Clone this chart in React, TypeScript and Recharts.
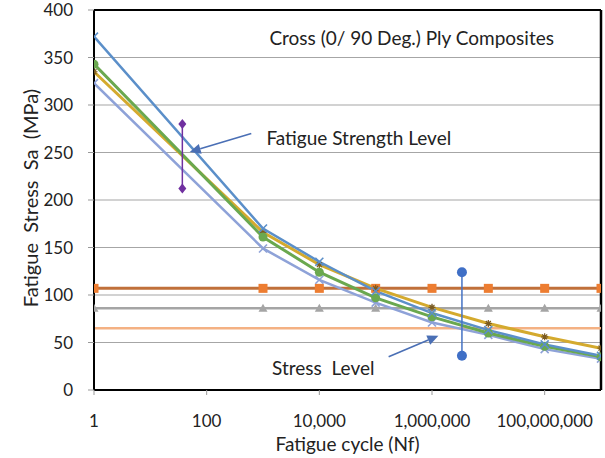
import React from 'react';
import {
  ComposedChart, Line, XAxis, YAxis, CartesianGrid, ReferenceLine, ReferenceDot,
} from 'recharts';

// ---------- data ----------
const cycles = [1, 1e3, 1e4, 1e5, 1e6, 1e7, 1e8, 1e9];
const curveBlue = [372, 170, 135, 104, 81, 63, 48, 36];
const curveGreen = [343, 161, 124, 97, 77, 60, 46, 35];
const curveYellow = [335, 166, 132, 107, 87, 70, 56, 44];
const curveLavender = [323, 149, 116, 92, 71, 58, 43, 33];
const levelOrange = [107, 107, 107, 107, 107, 107, 107, 107];
const levelGray = [86, 86, 86, 86, 86, 86, 86, 86];
const levelLight = [65, 65, 65, 65, 65, 65, 65, 65];

const strengthBarX = 37;
const strengthBar = [212, 280];
const stressBarX = 3.4e6;
const stressBar = [36, 124];

const xTicks = [1, 100, 1e4, 1e6, 1e8];
const yTicks = [0, 50, 100, 150, 200, 250, 300, 350, 400];

const titleText = 'Cross (0/ 90 Deg.) Ply Composites';
const strengthText = 'Fatigue Strength Level';
const stressText = 'Stress  Level';
const xTitle = 'Fatigue cycle (Nf)';
const yTitle = 'Fatigue  Stress  Sa  (MPa)';

const rows = cycles.map((c, i) => ({
  x: c,
  blue: curveBlue[i],
  green: curveGreen[i],
  yellow: curveYellow[i],
  lav: curveLavender[i],
  orange: levelOrange[i],
  gray: levelGray[i],
  light: levelLight[i],
}));
const strengthRows = strengthBar.map((v) => ({ x: strengthBarX, y: v }));
const stressRows = stressBar.map((v) => ({ x: stressBarX, y: v }));

const FONT = 'Lato, "Open Sans", sans-serif';

// ---------- markers ----------
const XMark = (color: string) => (p: any) => {
  const { cx, cy, index } = p;
  const s = 4;
  return (
    <path key={`xm-${index}`} d={`M${cx - s},${cy - s}L${cx + s},${cy + s}M${cx - s},${cy + s}L${cx + s},${cy - s}`}
      stroke={color} strokeWidth={1.6} fill="none" />
  );
};
const Square = (color: string) => (p: any) => {
  const { cx, cy, index } = p;
  return <rect key={`sq-${index}`} x={cx - 4.5} y={cy - 4.5} width={9} height={9} fill={color} />;
};
const Tri = (color: string) => (p: any) => {
  const { cx, cy, index } = p;
  return <path key={`tr-${index}`} d={`M${cx},${cy - 4.5}L${cx + 4.5},${cy + 3.5}L${cx - 4.5},${cy + 3.5}Z`} fill={color} />;
};
const Circ = (color: string, r: number) => (p: any) => {
  const { cx, cy, index } = p;
  return <circle key={`ci-${index}`} cx={cx} cy={cy} r={r} fill={color} />;
};
const Diamond = (color: string) => (p: any) => {
  const { cx, cy, index } = p;
  return <path key={`di-${index}`} d={`M${cx},${cy - 5}L${cx + 4},${cy}L${cx},${cy + 5}L${cx - 4},${cy}Z`} fill={color} />;
};
const Star = (color: string) => (p: any) => {
  const { cx, cy, index } = p;
  const s = 3.5;
  return (
    <path key={`st-${index}`} d={`M${cx - s},${cy}L${cx + s},${cy}M${cx},${cy - s}L${cx},${cy + s}M${cx - 2.5},${cy - 2.5}L${cx + 2.5},${cy + 2.5}M${cx - 2.5},${cy + 2.5}L${cx + 2.5},${cy - 2.5}`}
      stroke={color} strokeWidth={1.2} fill="none" />
  );
};

const Arrow = (color: string) => (p: any) => {
  const { x1, y1, x2, y2 } = p;
  const ang = Math.atan2(y2 - y1, x2 - x1);
  const L = 11, W = 5;
  const bx = x2 - L * Math.cos(ang);
  const by = y2 - L * Math.sin(ang);
  const px = -Math.sin(ang) * W;
  const py = Math.cos(ang) * W;
  return (
    <g>
      <line x1={x1} y1={y1} x2={bx} y2={by} stroke={color} strokeWidth={1.6} />
      <path d={`M${x2},${y2}L${bx + px},${by + py}L${bx - px},${by - py}Z`} fill={color} />
    </g>
  );
};

const TextAt = (txt: string) => (p: any) => (
  <text x={p.cx} y={p.cy} fontFamily={FONT} fontSize={19} fill="#222" dominantBaseline="central"
    style={{ whiteSpace: 'pre' }}>{txt}</text>
);

const YTitle = (props: any) => {
  const vb = props.viewBox;
  const cx = vb.x + 30;
  const cy = vb.y + vb.height / 2 - 2;
  return (
    <text x={cx} y={cy} transform={`rotate(-90 ${cx} ${cy})`} textAnchor="middle" dominantBaseline="central"
      fontFamily={FONT} fontSize={20} fill="#222" style={{ whiteSpace: 'pre' }}>{yTitle}</text>
  );
};
const XTitle = (props: any) => {
  const vb = props.viewBox;
  const cx = vb.x + vb.width / 2;
  const cy = vb.y + 53;
  return (
    <text x={cx} y={cy} textAnchor="middle" dominantBaseline="central"
      fontFamily={FONT} fontSize={19} fill="#222">{xTitle}</text>
  );
};

const fmt = (v: number) => v.toLocaleString('en-US');

export default function App() {
  return (
    <div style={{ position: 'absolute', left: 0, top: 0, width: 605, height: 458, background: '#fff', fontFamily: FONT }}>
      <ComposedChart width={605} height={458} data={rows} margin={{ top: 10, right: 4, left: 0, bottom: 0 }}>
        <CartesianGrid horizontal vertical={false} stroke="#a6a6a6" strokeWidth={1.2} />
        <XAxis dataKey="x" type="number" scale="log" domain={[1, 1e9]} ticks={xTicks} allowDataOverflow
          tickFormatter={fmt} height={68} stroke="#000" strokeWidth={2}
          tick={{ fontSize: 17, fill: '#222', fontFamily: FONT }} tickSize={5} tickMargin={20}
          tickLine={{ stroke: '#999', strokeWidth: 1 }} label={<XTitle />} />
        <YAxis type="number" domain={[0, 400]} ticks={yTicks} width={94} stroke="#000" strokeWidth={2}
          tick={{ fontSize: 17, fill: '#222', fontFamily: FONT }} tickSize={6} tickMargin={15}
          tickLine={{ stroke: '#999', strokeWidth: 1 }} label={<YTitle />} />
        <ReferenceLine y={400} stroke="#000" strokeWidth={2} />
        <ReferenceLine x={1e9} stroke="#000" strokeWidth={2.5} />

        <Line dataKey="light" stroke="#F4B183" strokeWidth={2.5} dot={false} isAnimationActive={false} />
        <Line dataKey="gray" stroke="#A5A5A5" strokeWidth={2.5} dot={Tri('#A5A5A5')} isAnimationActive={false} />
        <Line dataKey="orange" stroke="#C0703A" strokeWidth={3} dot={Square('#ED7D31')} isAnimationActive={false} />

        <Line dataKey="lav" type="linear" stroke="#8EA2D8" strokeWidth={2.5} dot={XMark('#8EA2D8')} isAnimationActive={false} />
        <Line dataKey="yellow" type="linear" stroke="#D4AA2E" strokeWidth={3} dot={Star('#7A5A20')} isAnimationActive={false} />
        <Line dataKey="green" type="linear" stroke="#6AA84F" strokeWidth={3} dot={Circ('#6AA84F', 4.5)} isAnimationActive={false} />
        <Line dataKey="blue" type="linear" stroke="#5B8FC9" strokeWidth={2.5} dot={XMark('#5B8FC9')} isAnimationActive={false} />

        <Line data={strengthRows} dataKey="y" stroke="#7030A0" strokeWidth={1.5} dot={Diamond('#7030A0')} isAnimationActive={false} />
        <Line data={stressRows} dataKey="y" stroke="#4472C4" strokeWidth={1.5} dot={Circ('#3F6FC6', 5)} isAnimationActive={false} />

        <ReferenceLine segment={[{ x: 620, y: 270 }, { x: 50, y: 250.5 }]} shape={Arrow('#4A6FB5')} />
        <ReferenceLine segment={[{ x: 1.7e5, y: 35 }, { x: 1.3e6, y: 57 }]} shape={Arrow('#4A6FB5')} />

        <ReferenceDot x={1300} y={371} r={0} shape={TextAt(titleText)} />
        <ReferenceDot x={1150} y={266} r={0} shape={TextAt(strengthText)} />
        <ReferenceDot x={1450} y={24} r={0} shape={TextAt(stressText)} />
      </ComposedChart>
    </div>
  );
}
